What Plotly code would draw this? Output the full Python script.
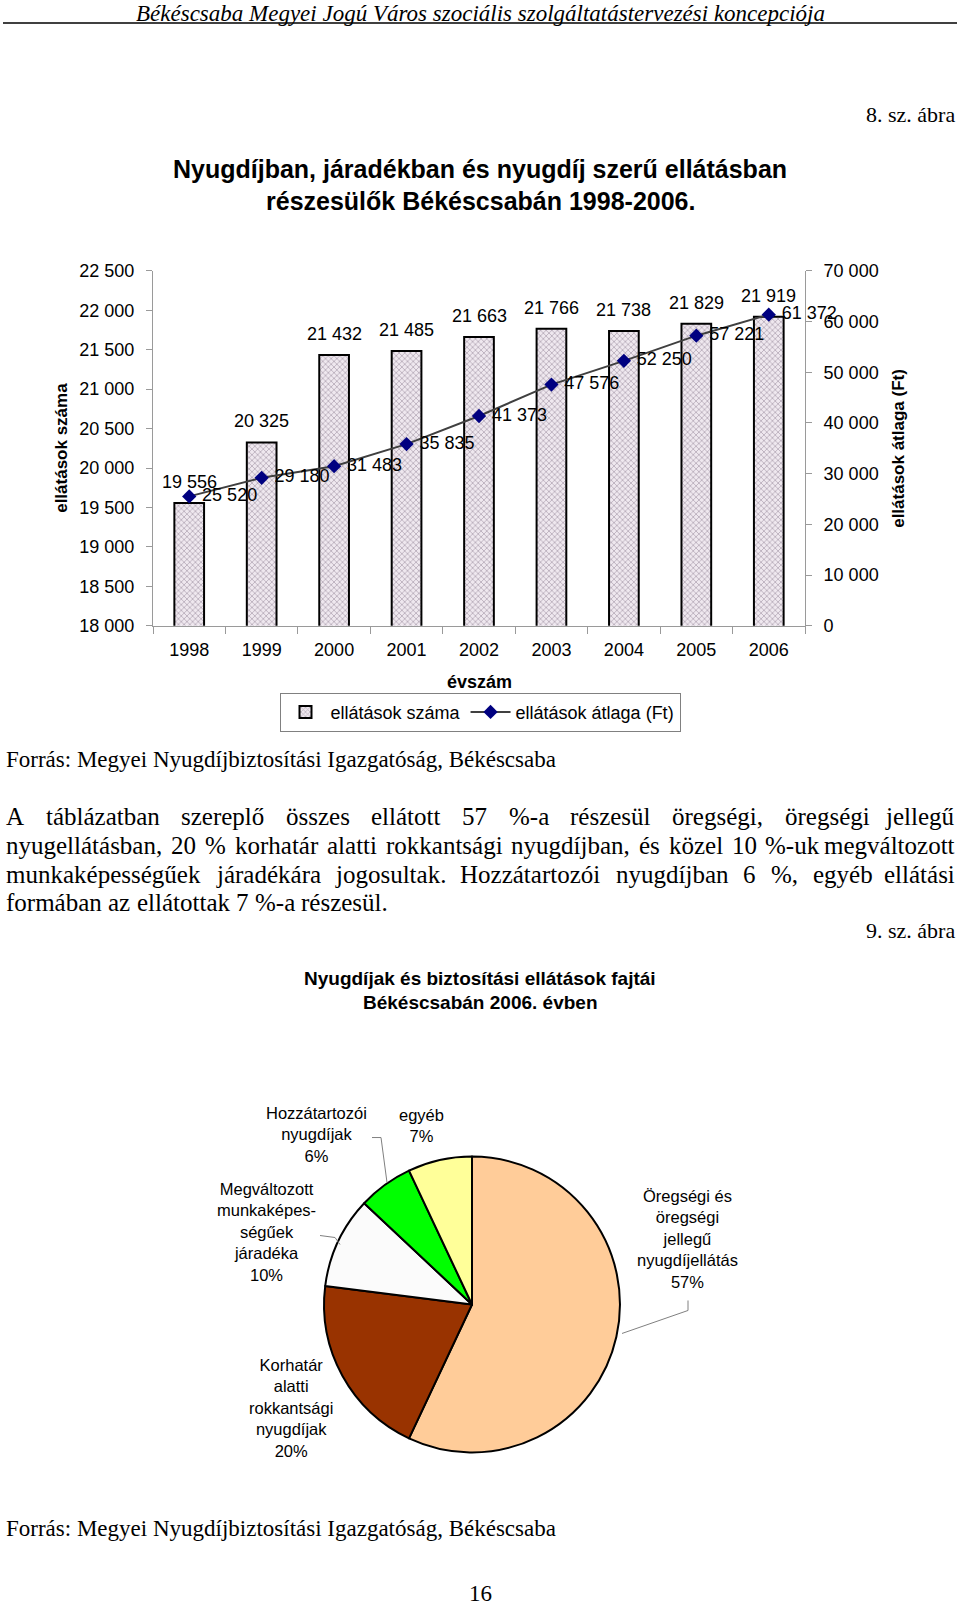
import plotly.graph_objects as go

W, H = 960, 1613

# ---------------- data ----------------
years = ["1998", "1999", "2000", "2001", "2002", "2003", "2004", "2005", "2006"]
ellatasok_szama = [19556, 20325, 21432, 21485, 21663, 21766, 21738, 21829, 21919]
ellatasok_atlaga = [25520, 29180, 31483, 35835, 41373, 47576, 52250, 57221, 61372]

left_ticks = [18000, 18500, 19000, 19500, 20000, 20500, 21000, 21500, 22000, 22500]
right_ticks = [0, 10000, 20000, 30000, 40000, 50000, 60000, 70000]

pie_names = ["Öregségi és öregségi jellegű nyugdíjellátás",
             "Korhatár alatti rokkantsági nyugdíjak",
             "Megváltozott munkaképességűek járadéka",
             "Hozzátartozói nyugdíjak",
             "egyéb"]
pie_values = [57, 20, 10, 6, 7]
pie_label_texts = ["Öregségi és<br>öregségi<br>jellegű<br>nyugdíjellátás<br>57%",
                   "Korhatár<br>alatti<br>rokkantsági<br>nyugdíjak<br>20%",
                   "Megváltozott<br>munkaképes-<br>ségűek<br>járadéka<br>10%",
                   "Hozzátartozói<br>nyugdíjak<br>6%",
                   "egyéb<br>7%"]

header_text = "Békéscsaba Megyei Jogú Város szociális szolgáltatástervezési koncepciója"
fig8_label = "8. sz. ábra"
fig9_label = "9. sz. ábra"
title1 = ["Nyugdíjban, járadékban és nyugdíj szerű ellátásban",
          "részesülők Békéscsabán 1998-2006."]
title2 = ["Nyugdíjak és biztosítási ellátások fajtái", "Békéscsabán 2006. évben"]
source_text = "Forrás: Megyei Nyugdíjbiztosítási Igazgatóság, Békéscsaba"
paragraph_lines = [
    "A táblázatban szereplő összes ellátott 57 %-a részesül öregségi, öregségi jellegű",
    "nyugellátásban, 20 % korhatár alatti rokkantsági nyugdíjban, és közel 10 %-uk megváltozott",
    "munkaképességűek járadékára jogosultak. Hozzátartozói nyugdíjban 6 %, egyéb ellátási",
    "formában az ellátottak 7 %-a részesül.",
]
page_number = "16"


# ---------------- helpers ----------------
def fmt(v):
    return f"{v:,}".replace(",", " ")


# vertical calibration of the rendered page (measured offset / scale)
V_OFF, V_SCALE = 9.0, 0.988


def px(x):
    return x / W


def py(y):
    return 1 - ((y - V_OFF) / V_SCALE) / H


SANS = "Liberation Sans, Arial, sans-serif"
SERIF = "Liberation Serif, Times New Roman, serif"
AXIS_GRAY = "#9a9a9a"

# Times-Roman like widths (per 1000 em) for justified paragraph layout
TW = {" ": 250, "a": 444, "b": 500, "c": 444, "d": 500, "e": 444, "f": 333, "g": 500,
      "h": 500, "i": 278, "j": 278, "k": 500, "l": 278, "m": 778, "n": 500, "o": 500,
      "p": 500, "q": 500, "r": 333, "s": 389, "t": 278, "u": 500, "v": 500, "w": 722,
      "x": 500, "y": 500, "z": 444, "á": 444, "é": 444, "í": 278, "ó": 500, "ö": 500,
      "ő": 500, "ú": 500, "ü": 500, "ű": 500, "A": 722, "B": 667, "F": 556, "H": 722,
      "I": 333, "K": 722, "M": 889, "N": 722, "Ö": 722, "%": 833, "-": 333, ".": 250,
      ",": 250, ":": 278}


def tw(word, size):
    return sum(TW.get(c, 500) for c in word) * size / 1000.0


fig = go.Figure()

# ---------------- bar + line chart ----------------
fig.add_trace(go.Bar(
    x=years, y=ellatasok_szama, name="ellátások száma",
    width=0.41,
    marker=dict(color="#e6dce6",
                line=dict(color="black", width=2),
                pattern=dict(shape="x", size=4, solidity=0.4,
                             fgcolor="#85778a", bgcolor="#efe8ef")),
    yaxis="y", xaxis="x", hoverinfo="skip",
))
fig.add_trace(go.Scatter(
    x=years, y=ellatasok_atlaga, name="ellátások átlaga (Ft)",
    mode="lines+markers+text",
    line=dict(color="#404040", width=2),
    marker=dict(symbol="diamond", size=11, color="#000080"),
    text=["\u00a0" + fmt(v) for v in ellatasok_atlaga], textposition="middle right",
    textfont=dict(family=SANS, size=18, color="black"),
    cliponaxis=False, yaxis="y2", xaxis="x", hoverinfo="skip",
))

# bar value labels (category axis -> use category index)
annotations = []
for i, v in enumerate(ellatasok_szama):
    annotations.append(dict(x=i, y=v, xref="x", yref="y", text=fmt(v), showarrow=False,
                            xanchor="center", yanchor="bottom", yshift=9,
                            font=dict(family=SANS, size=18, color="black")))

# ---------------- pie ----------------
cx, cy, r = 472, 1304, 148
fig.add_trace(go.Pie(
    labels=pie_names, values=pie_values, sort=False, direction="clockwise", rotation=0,
    textinfo="none", showlegend=False, hoverinfo="skip",
    marker=dict(colors=["#ffcc99", "#993300", "#fbfbfb", "#00ff00", "#ffff99"],
                line=dict(color="black", width=2)),
    domain=dict(x=[px(cx - r), px(cx + r)], y=[py(cy + r), py(cy - r)]),
))

pie_label_pos = [(687, 1238), (291, 1408), (266, 1231), (316, 1134), (421, 1125)]
for txt, (lx, ly) in zip(pie_label_texts, pie_label_pos):
    annotations.append(dict(x=px(lx), y=py(ly), xref="paper", yref="paper", text=txt,
                            showarrow=False, align="center", xanchor="center", yanchor="middle",
                            font=dict(family=SANS, size=16.5, color="black")))


# ---------------- page texts ----------------
def add_text(text, x, y, size, family=SERIF, xanchor="center", style="normal", bold=False):
    t = f"<b>{text}</b>" if bold else text
    annotations.append(dict(x=px(x), y=py(y), xref="paper", yref="paper", text=t,
                            showarrow=False, xanchor=xanchor, yanchor="middle",
                            font=dict(family=family, size=size, color="black", style=style)))


add_text(header_text, 480, 13, 23, style="italic")
add_text(fig8_label, 957, 114, 22, xanchor="right")
add_text(title1[0], 480, 168, 25, family=SANS, bold=True)
add_text(title1[1], 480, 200, 25, family=SANS, bold=True)

# axis titles
annotations.append(dict(x=px(62), y=py(447), xref="paper", yref="paper",
                        xanchor="center", yanchor="middle",
                        text="<b>ellátások száma</b>", textangle=-90, showarrow=False,
                        font=dict(family=SANS, size=17, color="black")))
annotations.append(dict(x=px(899), y=py(448), xref="paper", yref="paper",
                        xanchor="center", yanchor="middle",
                        text="<b>ellátások átlaga (Ft)</b>", textangle=-90, showarrow=False,
                        font=dict(family=SANS, size=17, color="black")))
annotations.append(dict(x=px(479), y=py(681), xref="paper", yref="paper",
                        xanchor="center", yanchor="middle",
                        text="<b>évszám</b>", showarrow=False,
                        font=dict(family=SANS, size=18, color="black")))

add_text(source_text, 4, 759, 23, xanchor="left")

# justified paragraph
PSIZE = 25
line_y = [816, 845, 874, 902]
left_x, right_x = 4, 957
for i, (line, yline) in enumerate(zip(paragraph_lines, line_y)):
    words = line.split(" ")
    last = i == len(paragraph_lines) - 1
    if last:
        gap = tw(" ", PSIZE)
    else:
        total = sum(tw(w, PSIZE) for w in words)
        gap = (right_x - left_x - total) / (len(words) - 1)
    xcur = left_x
    for j, w in enumerate(words):
        if (not last) and j == len(words) - 1:
            add_text(w, right_x, yline, PSIZE, xanchor="right")
        else:
            add_text(w, xcur, yline, PSIZE, xanchor="left")
        xcur += tw(w, PSIZE) + gap

add_text(fig9_label, 957, 930, 22, xanchor="right")
add_text(title2[0], 480, 978, 19, family=SANS, bold=True)
add_text(title2[1], 480, 1002, 19, family=SANS, bold=True)
add_text(source_text, 4, 1528, 23, xanchor="left")
add_text(page_number, 480, 1593, 23)

# ---------------- shapes (header rule, leader lines) ----------------
shapes = [dict(type="line", xref="paper", yref="paper", x0=px(3), x1=px(957),
               y0=py(22), y1=py(22), line=dict(color="black", width=1.5))]
leaders = [[(372, 1137), (381, 1137), (387, 1182)],
           [(320, 1235), (335, 1237), (340, 1244)],
           [(688, 1300), (688, 1310), (622, 1333)]]
for pts in leaders:
    for (x0, y0), (x1, y1) in zip(pts[:-1], pts[1:]):
        shapes.append(dict(type="line", xref="paper", yref="paper",
                           x0=px(x0), y0=py(y0), x1=px(x1), y1=py(y1),
                           line=dict(color="#808080", width=1)))

fig.update_layout(
    width=W, height=H, autosize=False,
    margin=dict(l=0, r=0, t=0, b=0),
    paper_bgcolor="white", plot_bgcolor="white",
    separators=", ",
    font=dict(family=SANS, size=18, color="black"),
    bargap=0.59,
    xaxis=dict(type="category", domain=[px(153), px(805)], range=[-0.5, 8.5],
               showline=True, linecolor=AXIS_GRAY, linewidth=1,
               ticks="outside", tickson="boundaries", ticklen=7, tickcolor=AXIS_GRAY,
               tickfont=dict(size=18, family=SANS), ticklabelstandoff=8, tickangle=0,
               showgrid=False, zeroline=False, fixedrange=True),
    yaxis=dict(domain=[py(625), py(270)], range=[18000, 22500], tickvals=left_ticks,
               ticktext=[fmt(v) for v in left_ticks],
               showline=True, linecolor=AXIS_GRAY, ticks="outside", ticklen=6,
               tickcolor=AXIS_GRAY, tickfont=dict(size=18, family=SANS),
               ticklabelstandoff=8, showgrid=False, zeroline=False),
    yaxis2=dict(range=[0, 70000], overlaying="y", side="right", anchor="x",
                tickvals=right_ticks, ticktext=[fmt(v) for v in right_ticks],
                showline=True, linecolor=AXIS_GRAY, ticks="outside", ticklen=6,
                tickcolor=AXIS_GRAY, tickfont=dict(size=18, family=SANS),
                ticklabelstandoff=8, showgrid=False, zeroline=False),
    legend=dict(orientation="h", x=0.5, xanchor="center", y=py(692), yanchor="top",
                bordercolor="#808080", borderwidth=1, font=dict(size=18, family=SANS),
                itemwidth=40, tracegroupgap=0, traceorder="normal"),
    showlegend=True,
    annotations=annotations,
    shapes=shapes,
)

fig.write_html(
    "out.html",
    config={"displayModeBar": False, "staticPlot": True},
    post_script=(
        "document.documentElement.style.margin='0';"
        "document.body.style.margin='0';document.body.style.padding='0';"
        "document.documentElement.style.overflow='hidden';"
        "var d=document.getElementById('{plot_id}');"
        "d.style.position='absolute';d.style.left='0px';d.style.top='0px';"
    ),
)
